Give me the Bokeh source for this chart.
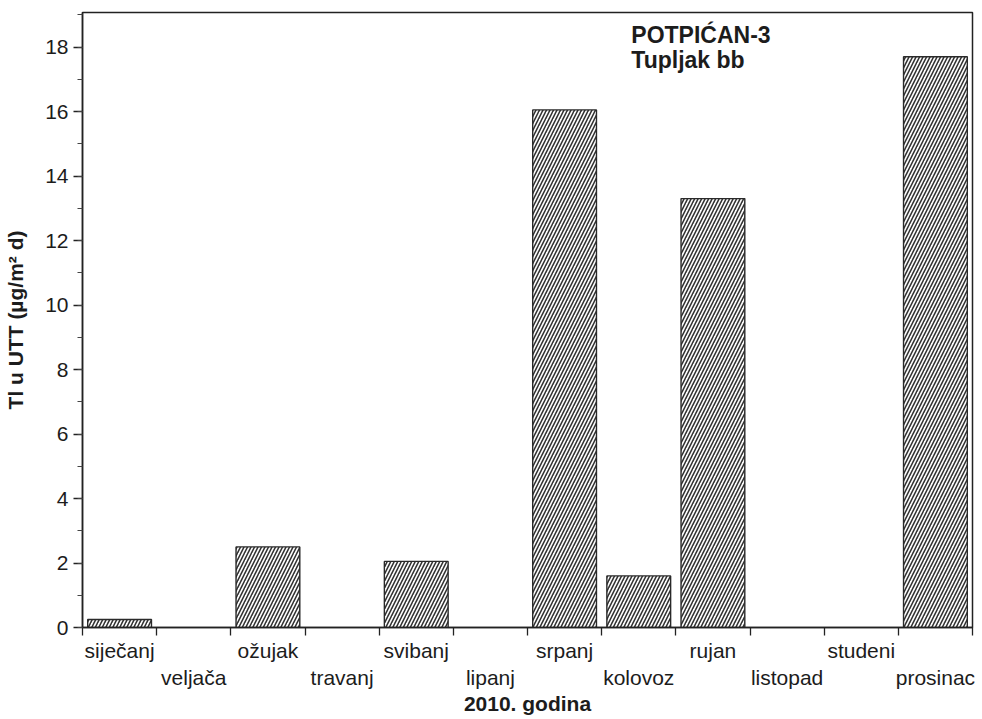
from bokeh.plotting import figure
from bokeh.models import ColumnDataSource, Label, FixedTicker, Range1d
from bokeh.embed import file_html
from bokeh.resources import INLINE

# ---- data ----
months = ["siječanj", "veljača", "ožujak", "travanj", "svibanj", "lipanj",
          "srpanj", "kolovoz", "rujan", "listopad", "studeni", "prosinac"]
values = [0.25, 0.0, 2.5, 0.0, 2.05, 0.0, 16.05, 1.6, 13.3, 0.0, 0.0, 17.7]
y_major_ticks = [0, 2, 4, 6, 8, 10, 12, 14, 16, 18]
title_lines = ["POTPIĆAN-3", "Tupljak bb"]
y_label = "Tl u UTT (µg/m² d)"
x_label = "2010. godina"

FONT = "Liberation Sans"
TXT = "#1c1c1c"
n = len(months)

W, H = 976, 718
p = figure(width=W, height=H, output_backend="svg", toolbar_location=None,
           x_range=Range1d(0, n), y_range=Range1d(0, 19.07),
           min_border_left=82, min_border_right=W - 972, min_border_top=12,
           min_border_bottom=H - 628)
p.background_fill_color = "white"
p.border_fill_color = "white"
p.outline_line_color = "#222222"
p.outline_line_width = 1.5
p.grid.visible = False

# bars
bx = [i + 0.5 for i, v in enumerate(values) if v > 0]
bt = [v for v in values if v > 0]
src = ColumnDataSource(dict(x=bx, top=bt))
p.vbar(x="x", top="top", width=0.86, bottom=0, source=src,
       fill_color="white", line_color="#2a2a2a", line_width=1.4,
       hatch_pattern="/", hatch_color="#333333", hatch_scale=7, hatch_weight=1.6)

# y axis
ya = p.yaxis[0]
ya.ticker = FixedTicker(ticks=y_major_ticks, minor_ticks=list(range(0, 20)))
ya.major_tick_out = 9
ya.major_tick_in = 0
ya.minor_tick_out = 5
ya.minor_tick_in = 0
ya.axis_line_color = "#222222"
ya.axis_line_width = 1.5
ya.major_tick_line_color = "#222222"
ya.minor_tick_line_color = "#444444"
ya.major_tick_line_width = 1.3
ya.major_label_text_font = FONT
ya.major_label_text_font_size = "21px"
ya.major_label_text_color = TXT
ya.major_label_standoff = 5
ya.axis_label = y_label
ya.axis_label_text_font = FONT
ya.axis_label_text_font_size = "21px"
ya.axis_label_text_font_style = "bold"
ya.axis_label_text_color = TXT
ya.axis_label_standoff = 15

# x axis: labels at month centres (staggered), tick marks at month boundaries
xa = p.xaxis[0]
centres = [i + 0.5 for i in range(n)]
xa.ticker = FixedTicker(ticks=centres, minor_ticks=list(range(n + 1)))
xa.major_label_overrides = {c: (m if i % 2 == 0 else "\n" + m)
                            for i, (c, m) in enumerate(zip(centres, months))}
xa.major_tick_out = 0
xa.major_tick_in = 0
xa.minor_tick_out = 8
xa.minor_tick_in = 0
xa.major_tick_line_color = None
xa.minor_tick_line_color = "#222222"
xa.minor_tick_line_width = 1.3
xa.axis_line_color = "#222222"
xa.axis_line_width = 1.5
xa.major_label_text_font = FONT
xa.major_label_text_font_size = "21px"
xa.major_label_text_color = TXT
xa.major_label_standoff = 3
xa.axis_label = x_label
xa.axis_label_text_font = FONT
xa.axis_label_text_font_size = "21px"
xa.axis_label_text_font_style = "bold"
xa.axis_label_text_color = TXT
xa.axis_label_standoff = 0

# inner title
for k, line in enumerate(title_lines):
    p.add_layout(Label(x=7.4, y=18.79 - 0.8 * k, text=line,
                       text_font=FONT, text_font_size="23px",
                       text_font_style="bold", text_color=TXT,
                       text_align="left", text_baseline="top"))

open("out.html", "w").write(file_html(p, INLINE))
